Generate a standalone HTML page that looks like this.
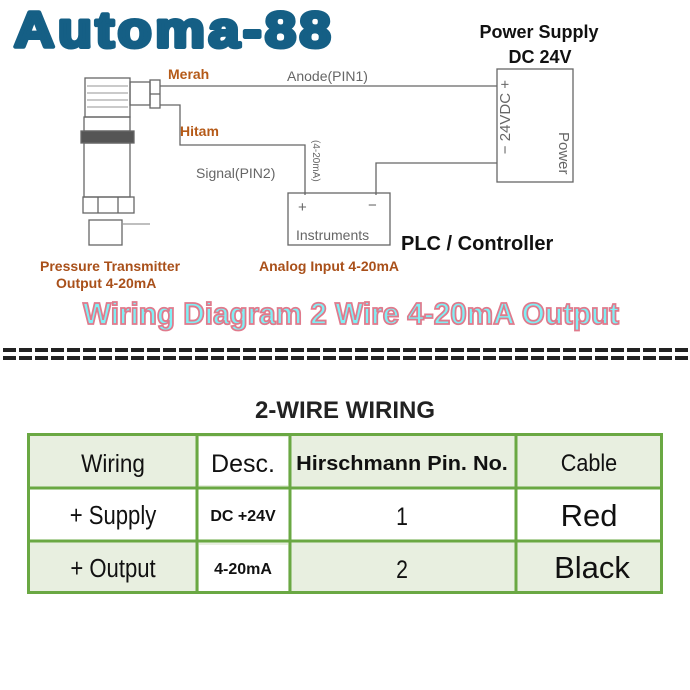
<!DOCTYPE html>
<html><head><meta charset="utf-8"><style>
html,body{margin:0;padding:0;background:#fff;width:690px;height:690px;overflow:hidden}
svg{display:block}
</style></head><body>
<svg width="690" height="690" viewBox="0 0 690 690" xmlns="http://www.w3.org/2000/svg" font-family="Liberation Sans, sans-serif">
<rect width="690" height="690" fill="#fff"/>
<!-- Title -->
<text x="14" y="47" font-size="50" font-weight="bold" fill="#155f85" stroke="#155f85" stroke-width="4" stroke-linejoin="round" letter-spacing="3" textLength="320" lengthAdjust="spacingAndGlyphs">Automa-88</text>
<text x="539" y="38" font-size="18" font-weight="bold" text-anchor="middle" fill="#111">Power Supply</text>
<text x="540" y="63" font-size="18" font-weight="bold" text-anchor="middle" fill="#111">DC 24V</text>

<g stroke="#666" stroke-width="1.3" fill="none">
<!-- transmitter -->
<rect x="85" y="78" width="45" height="39" fill="#fff"/>
<line x1="87" y1="86" x2="128" y2="86" stroke="#aaa"/><line x1="87" y1="93" x2="128" y2="93" stroke="#aaa"/><line x1="87" y1="100" x2="128" y2="100" stroke="#aaa"/><line x1="87" y1="107" x2="128" y2="107" stroke="#aaa"/>
<rect x="130" y="82" width="20" height="23"/>
<rect x="150" y="80" width="10" height="28"/>
<line x1="150" y1="94" x2="160" y2="94"/>
<rect x="84" y="117" width="46" height="14"/>
<rect x="81" y="131" width="53" height="12" fill="#555"/>
<rect x="84" y="143" width="46" height="54"/>
<rect x="83" y="197" width="51" height="16"/>
<line x1="98" y1="197" x2="98" y2="213"/><line x1="118" y1="197" x2="118" y2="213"/>
<rect x="89" y="220" width="33" height="25"/>
<line x1="122" y1="224" x2="150" y2="224" stroke="#999"/>
<!-- wires -->
<polyline points="160,86 497,86"/>
<polyline points="160,105 180,105 180,145 305,145 305,195"/>
<polyline points="376,195 376,163 497,163"/>
<!-- boxes -->
<rect x="497" y="69" width="76" height="113"/>
<rect x="288" y="193" width="102" height="52"/>
</g>
<text x="168" y="79" font-size="14" font-weight="bold" fill="#b55a18">Merah</text>
<text x="180" y="136" font-size="14" font-weight="bold" fill="#b55a18">Hitam</text>
<text x="287" y="81" font-size="14" fill="#666">Anode(PIN1)</text>
<text x="196" y="178" font-size="14" fill="#666">Signal(PIN2)</text>
<text transform="translate(313,140) rotate(90)" font-size="10" fill="#666">(4-20mA)</text>
<text transform="translate(510,80) rotate(-90)" font-size="15" fill="#666" text-anchor="end">− 24VDC +</text>
<text transform="translate(559,132) rotate(90)" font-size="15" fill="#666">Power</text>
<text x="298" y="212" font-size="15" fill="#666">+</text>
<text x="368" y="210" font-size="15" fill="#666">−</text>
<text x="296" y="240" font-size="14" fill="#666">Instruments</text>
<text x="401" y="250" font-size="20" font-weight="bold" fill="#111">PLC / Controller</text>
<text x="40" y="271" font-size="14" font-weight="bold" fill="#a9501a">Pressure Transmitter</text>
<text x="56" y="288" font-size="14" font-weight="bold" fill="#a9501a">Output 4-20mA</text>
<text x="259" y="271" font-size="14" font-weight="bold" fill="#a9501a">Analog Input 4-20mA</text>
<text x="351" y="324" font-size="31" font-weight="bold" text-anchor="middle" fill="#7ff0f5" stroke="#e07a8c" stroke-width="1.8" textLength="536" lengthAdjust="spacingAndGlyphs">Wiring Diagram 2 Wire 4-20mA Output</text>
<!-- dashed separator -->
<line x1="3" y1="350" x2="690" y2="350" stroke="#222" stroke-width="4" stroke-dasharray="13,3"/>
<line x1="3" y1="358" x2="690" y2="358" stroke="#222" stroke-width="4" stroke-dasharray="13,3"/>
<!-- table -->
<text x="345" y="418" font-size="24" font-weight="bold" text-anchor="middle" fill="#222">2-WIRE WIRING</text>
<rect x="27" y="433" width="636" height="55" fill="#e8efe0"/>
<rect x="27" y="488" width="636" height="53" fill="#fff"/>
<rect x="27" y="541" width="636" height="53" fill="#e8efe0"/>
<rect x="199" y="437" width="89" height="48" fill="#fff"/>
<rect x="199" y="492" width="89" height="46" fill="#fff"/>
<rect x="199" y="545" width="89" height="46" fill="#fff"/>
<g stroke="#6aa843" stroke-width="3" fill="none">
<rect x="28.5" y="434.5" width="633" height="158"/>
<line x1="28" y1="488" x2="662" y2="488"/><line x1="28" y1="541" x2="662" y2="541"/>
<line x1="197" y1="434" x2="197" y2="593"/><line x1="290" y1="434" x2="290" y2="593"/><line x1="516" y1="434" x2="516" y2="593"/>
</g>
<g fill="#111" text-anchor="middle">
<text x="113" y="472" font-size="25" transform="translate(113,0) scale(0.9,1) translate(-113,0)">Wiring</text>
<text x="243" y="472" font-size="25">Desc.</text>
<text x="402" y="470" font-size="20" font-weight="bold" transform="translate(402,0) scale(0.98,1) translate(-402,0)" textLength="216" lengthAdjust="spacingAndGlyphs">Hirschmann Pin. No.</text>
<text x="589" y="471" font-size="24" transform="translate(589,0) scale(0.9,1) translate(-589,0)">Cable</text>
<text x="113" y="524" font-size="26" transform="translate(113,0) scale(0.85,1) translate(-113,0)">+ Supply</text>
<text x="243" y="521" font-size="16" font-weight="bold">DC +24V</text>
<text x="402" y="525" font-size="25" transform="translate(402,0) scale(0.85,1) translate(-402,0)">1</text>
<text x="589" y="526" font-size="31">Red</text>
<text x="113" y="577" font-size="26" transform="translate(113,0) scale(0.85,1) translate(-113,0)">+ Output</text>
<text x="243" y="574" font-size="16" font-weight="bold">4-20mA</text>
<text x="402" y="578" font-size="25" transform="translate(402,0) scale(0.85,1) translate(-402,0)">2</text>
<text x="592" y="578" font-size="31">Black</text>
</g>
</svg>
</body></html>
